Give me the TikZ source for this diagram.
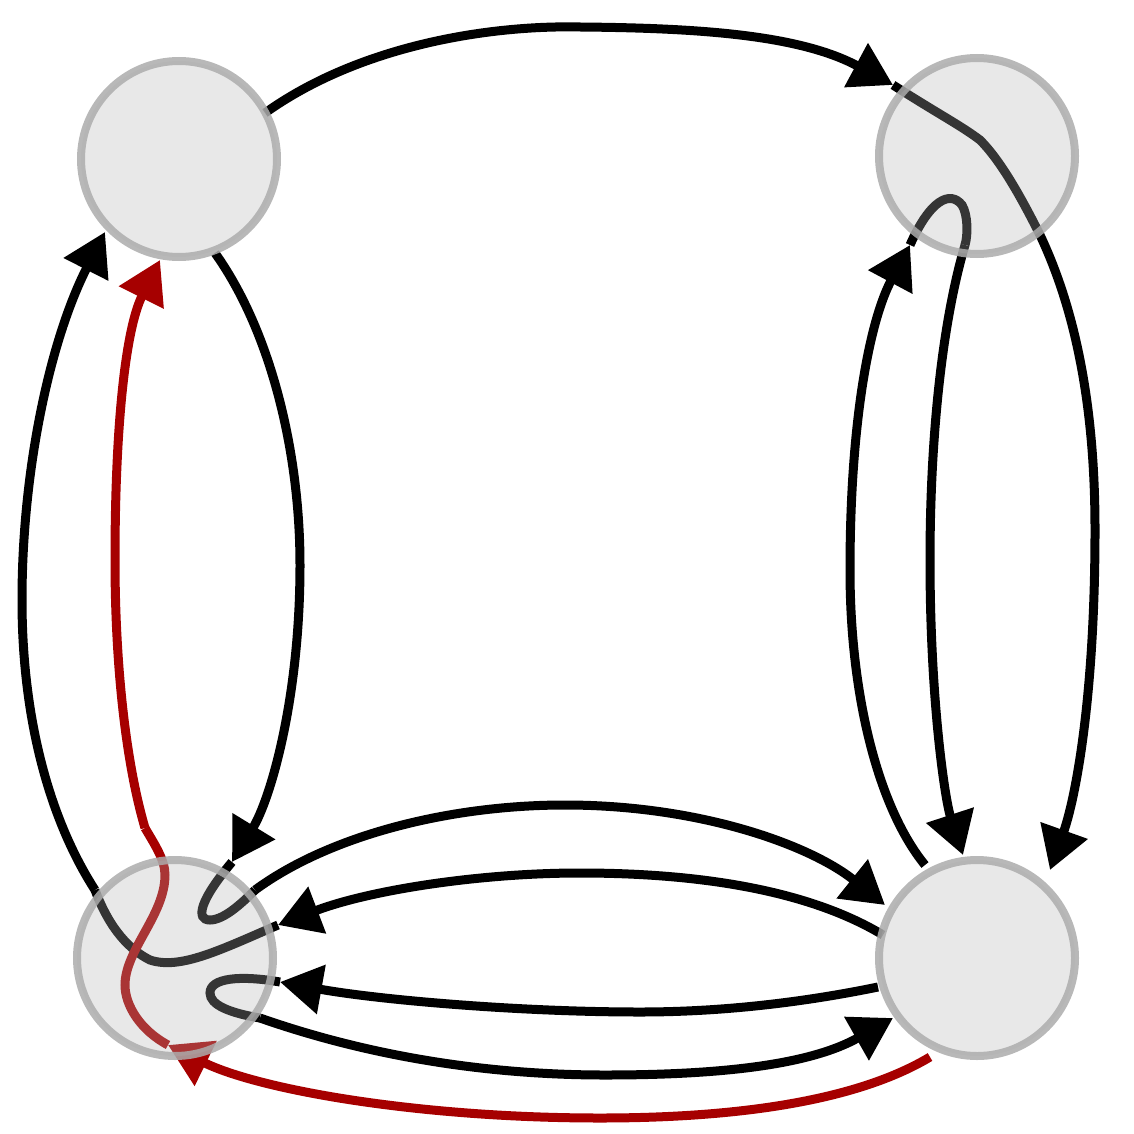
\documentclass[tikz,border=0pt]{standalone}
\usetikzlibrary{arrows.meta}
\begin{document}
\begin{tikzpicture}[x=1pt,y=-1pt,
  edge/.style={line width=9pt,-{Triangle[length=42pt,width=48pt]}},
  seg/.style={line width=9pt},
  redc/.style={draw=red!65!black},
  vert/.style={circle,minimum size=196pt,fill=gray!60,fill opacity=0.3,draw=gray!65,draw opacity=0.85,line width=8pt}]
\useasboundingbox (0,0) rectangle (1134,1134);
\draw[edge] (265,113) .. controls (360,45) and (490,25) .. (580,27) .. controls (700,28) and (800,35) .. (893,85);
\draw[edge] (893,85) .. controls (940,115) and (960,125) .. (980,140) .. controls (1000,160) and (1020,195) .. (1040,235) .. controls (1085,330) and (1095,440) .. (1095,530) .. controls (1095,700) and (1075,800) .. (1050,870);
\draw[edge] (925,865) .. controls (880,810) and (850,700) .. (850,570) .. controls (850,420) and (870,320) .. (910,245);
\draw[seg] (910,245) .. controls (930,200) and (950,190) .. (962,205) .. controls (968,215) and (968,235) .. (965,245);
\draw[edge] (965,245) .. controls (940,330) and (930,450) .. (930,560) .. controls (930,700) and (945,800) .. (963,855);
\draw[edge] (215,253) .. controls (270,330) and (300,450) .. (300,565) .. controls (300,700) and (270,800) .. (232,862);
\draw[seg] (232,862) .. controls (200,900) and (195,920) .. (210,920) .. controls (225,920) and (245,900) .. (255,890);
\draw[edge] (255,890) .. controls (330,835) and (450,805) .. (565,805) .. controls (700,805) and (810,845) .. (885,905);
\draw[edge] (883,935) .. controls (800,885) and (680,873) .. (580,873) .. controls (480,873) and (370,890) .. (278,925);
\draw[seg] (278,925) .. controls (220,950) and (180,970) .. (150,960) .. controls (130,950) and (110,930) .. (95,890);
\draw[edge] (95,890) .. controls (50,820) and (22,720) .. (22,600) .. controls (22,470) and (50,340) .. (105,232);
\draw[edge] (878,987) .. controls (800,1003) and (720,1012) .. (640,1012) .. controls (520,1012) and (380,1000) .. (280,982);
\draw[seg] (280,982) .. controls (240,975) and (210,978) .. (210,993) .. controls (210,1005) and (230,1013) .. (260,1018);
\draw[edge] (260,1018) .. controls (380,1060) and (500,1075) .. (605,1075) .. controls (720,1075) and (810,1065) .. (893,1018);
\draw[edge,redc] (930,1057) .. controls (850,1105) and (720,1118) .. (600,1118) .. controls (420,1118) and (260,1090) .. (168,1045);
\draw[seg,redc] (168,1045) .. controls (140,1030) and (125,1005) .. (125,985) .. controls (125,950) and (165,915) .. (165,875) .. controls (165,860) and (155,845) .. (145,828);
\draw[edge,redc] (145,828) .. controls (125,760) and (115,660) .. (115,560) .. controls (115,430) and (125,330) .. (160,260);
\node[vert] (tl) at (179,159) {};
\node[vert] (tr) at (977,156) {};
\node[vert] (bl) at (175,958) {};
\node[vert] (br) at (977,958) {};
\end{tikzpicture}
\end{document}
